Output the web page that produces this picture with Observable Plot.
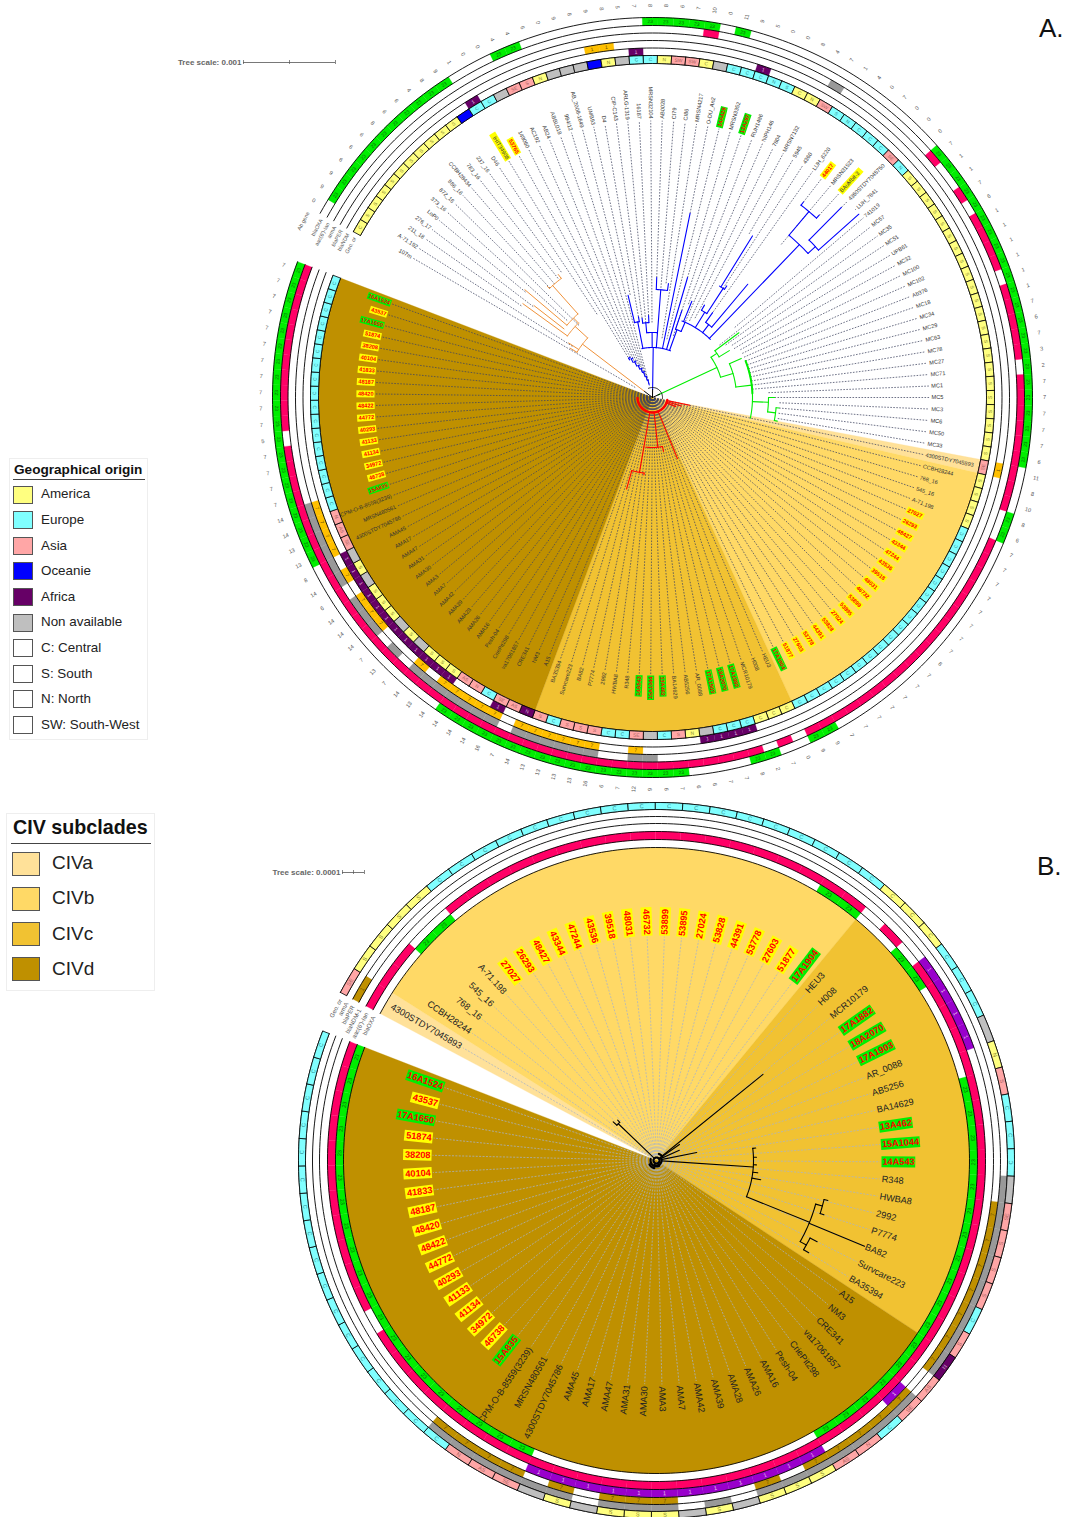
<!DOCTYPE html>
<html><head><meta charset="utf-8">
<script src="https://cdn.jsdelivr.net/npm/d3@7"></script>
<script src="https://cdn.jsdelivr.net/npm/@observablehq/plot@0.6"></script>
<style>
body{margin:0;background:#fff;font-family:"Liberation Sans",Arial,sans-serif;}
#wrap{position:relative;width:1080px;height:1517px;overflow:hidden}
.lg{position:absolute;background:#fff;border:1px solid #eee;box-sizing:border-box;color:#222}
.lg .t{position:absolute;font-weight:bold;color:#111;white-space:nowrap}
.lg .r{position:absolute;background:#444}
.lg .s{position:absolute;box-sizing:border-box;border:1px solid #555}
.lg .l{position:absolute;white-space:nowrap}
.big{position:absolute;font-size:26px;color:#111}
</style></head><body><div id="wrap"></div>
<script>
// ---------- leaf labels, clockwise from the ring start ----------
const otherLabels=["107m","A-71.192","211_18","276_17","LoP0","373_16","872_16","886_16","CCBH28434","783_16","237_16","D46","IHIT34908","53765","149060","AC192","AB24","ABBL018","984/12","AB_2008-1649","UMB93","D4","CIP-C143","ARLG-1319","16187","MRSN32104","AB0028","CI79","CI86","MRSN4217","O-DU_An2","14A429","MRSN3352","13A297","RUH1486","NIPH146","7804","MRSN7132","5945","4360","LUH_6220","44017","MRSN31523","BAuMbit-3","4360STDY7045750","LUH_7841","741019","MC57","MC35","MC51","UPB61","MC32","MC100","MC102","Ab376","MC18","MC34","MC29","MC63","MC78","MC27","MC71","MC1","MC5","MC3","MC6","MC50","MC33"];
const civLabels=["4300STDY7045893","CCBH28244","768_16","545_16","A-71.198","27027","26293","48427","43344","47244","43536","39518","48031","46732","53899","53895","27024","53828","44391","53778","27603","51877","17A1904","HEU3","H008","MCR10179","17A1882","18A2070","17A1903","AR_0088","AB5256","BA14629","13A462","15A1044","14A543","R348","HWBA8","2992","P7774","BA82","Survcare223","BA35394","A15","NM3","CRE341","va17061857","CriePit298","Pesh-04","AMA16","AMA26","AMA28","AMA39","AMA42","AMA7","AMA3","AMA30","AMA31","AMA47","AMA17","AMA45","4300STDY7045786","MRSN480561","SCPM-O-B-8559(3239)","15A835","46738","34972","41134","41133","40293","44772","48422","48420","48187","41833","40104","38208","51874","17A1650","43537","16A1524"];
const yellowRed=["27027","26293","48427","43344","47244","43536","39518","48031","46732","53899","53895","27024","53828","44391","53778","27603","51877","43537","51874","38208","40104","41833","48187","48420","48422","44772","40293","41133","41134","34972","46738","53765","44017"];
const yellowDark=["IHIT34908","BAuMbit-3"];
const greenRed=["17A1904","17A1882","18A2070","17A1903","13A462","15A1044","14A543","16A1524","17A1650","15A835","14A429","13A297"];

// ---------- geographic ring: letter + region (a,e,s,o,f,n) ----------
const geoOther="Ca Sa Sa Sa Sa Sa Sa Sa Sa Sa Sa _o Ce Ce _n SEs Ss Na _n _n _n _o Na _n Ce Ce Na SWs SWs Ca _n Ce Ce Ce Ne Se Ca Na SWs Se Ne Ce Ce Ce SEs Ne Sa Sa Sa Sa Sa Sa Sa Sa Sa Sa Sa Sa Sa Sa Sa Sa Sa Sa Sa Sa Sa Sa".split(" ");
const geoCivA="SEs Sa Sa Sa Sa Ce Ce Ce Ce Ce Ce Ce Ce Ce Ce Ce Ce Ce Ce Ce Ce Ce Ce Ca Ca Ca Ce Ce Ce _n Na Ss Ce _n SEs Ce Ce Ss Ss Ss Ce Ss Nf ASs SEs Ce Ns ASs Sa Sa Sa _n Sa _n Sa Sa Sa _n Sa _n SEs ASs Ns Ce Ce Ce Ce Ce Ce Ce Ce Ce Ce Ce Ce Ce Ce Ce Ce Ce".split(" ");
const geoCivB="SEs Sa Sa Sa Sa Ce Ce Ce Ce Ce Ce Ce Ce Ce Ce Ce Ce Ce Ce Ce Ce Ce Ce Ca Ca Ca Ce Ce Ce _n Na Ss Ce Ce Ce _n SEs Ss Ss Ss Ce Ss Nf ASs SEs Ce Ns ASs Sa Sa Sa _n Sa _n Sa Sa Sa _n Sa _n SEs ASs Ns Ce Ce Ce Ce Ce Ce Ce Ce Ce Ce Ce Ce Ce Ce Ce Ce Ce".split(" ");

// ---------- resistance rings: runs of leaf indices ----------
const ndmA=[[12,12],[24,24],[33,33],[94,97],[112,112],[116,127]];
const perA=[[21,22],[68,68],[102,102],[105,110],[112,116],[118,118],[122,124],[126,126],[128,131]];
const armaA=[[38,38],[101,102],[105,110],[112,118],[120,120],[122,124],[126,131]];
const aacA=[[29,29],[46,46],[49,49],[51,54],[56,60],[62,70],[73,90],[92,92],[94,135],[137,147]];
const oxaA=[[1,11],[15,16],[25,29],[31,31],[46,67],[71,72],[89,90],[93,94],[99,115],[128,147]];
const ndmB=[[26,29],[44,44],[48,59]];
const perB=[[0,0],[36,42],[44,48],[50,50],[54,56],[58,58],[60,63]];
const armaB=[[35,42],[44,50],[52,52],[54,56],[58,63]];
const aacB=[[0,2],[5,22],[24,24],[26,67],[69,79]];
const oxaB=[[3,4],[21,22],[25,26],[31,47],[60,79]];

// ---------- outer numbers of panel A ----------
const outerA=[0,9,9,6,6,6,8,6,6,4,8,9,1,0,0,4,4,6,0,9,8,9,8,5,7,8,8,6,7,10,0,11,9,5,0,0,8,4,7,1,4,0,7,0,0,0,7,1,1,7,6,1,1,1,1,1,1,7,6,7,3,2,7,7,7,7,7,6,11,8,10,8,6,7,7,7,7,7,7,7,7,8,7,7,7,7,7,7,7,9,9,0,7,2,8,7,7,6,6,7,6,9,12,7,6,16,13,13,13,13,14,7,16,14,14,14,14,13,14,7,13,7,14,14,14,6,14,8,13,13,14,14,7,7,7,7,5,7,7,7,7,7,7,7,7,7,7,7];

// ---------- tree branches: [leaf position, r from, r to, arc from, arc to] ----------
const orangeA=[[3,10,88,0.3,5.2],[0.3,88,96],[5.2,88,105,2.4,6.3],[2.4,105,160],[6.3,105,112,4.2,7.6],[4.2,112,167],[7.6,112,150,6.9,9.4],[6.9,150,153],[9.4,150,155],[1.2,88,100],[3.2,112,150]];
const blueA=[[25.5,8,50,20,34],[20.5,50,77,19.5,21],[19.5,77,105],[21,77,82],[25,50,65,23,27],[23,65,75,22,24],[22,75,80],[24,75,82],[27,50,108,26,28.5],[26,108,120],[28.5,108,115],
[30,50,188],[32,50,125],[33.5,50,72,33,35],[33,72,92],[35,72,82,34,44],[34.5,82,104],[38.4,82,100,37.5,39],[37.5,100,106],[39,100,130,38.2,39.3],[38.5,130,190],[39.3,130,134],[41,82,92,40,42],[40,92,104],[42,92,148],
[43.6,82,212,42,45],[42,212,243,41,43],[41,243,247],[43,243,247],[45,212,222,44,45.5],[44,222,268],[45.5,222,276],
[12,44,46,12,13],[13,40,44,13,14],[14,35,40,14,15],[15,31,35,15,16],[16,27,31,16,17],[17,22,27,17,18],[18,18,22,18,19],[19,13,18,19,19.8]];
const greenA=[[52.5,6,71,48.5,56],[48.5,71,78,47.5,49.8],[47.5,78,108],[49.8,78,90],[56,71,84,53,60],[53,84,97],[60,84,100,55,68],[64,100,116,63,66],[63,116,122],[66,116,124,65,67.5],[65,124,127],[67.5,124,127]];
const greenBoldA=[[60,100,100,54,62]];
const redA=[[68,15,38],[70,15,30],[72,15,25],[91.5,15,66],[98.3,15,50,96,104],[96,50,55],[105,15,50],[105,50,76,103.5,107.5],[103.5,76,78],[107.5,76,95]];
const redBoldA=[[100,15,15,67,138]];
const blackA=[[52.5,0,8],[25.5,0,8],[3,0,10],[40,10,10,15,66]];
const blackB=[[34.8,5,97,32.3,38.9],[32.3,97,100],[33.5,97,100],[34.5,97,100],[35.5,97,102],[36.3,97,106],[38.9,97,165,37.4,40.6],[37.4,165,172,36.9,38],[36.9,172,176],[38,172,176],[39,165,225],[40.6,165,172,40,41],[40,172,180],[41,172,178],
[25.1,4,137],[3.1,4,53,2.6,3.6],[2.6,53,58],[3.6,53,56],[31.4,6,41],[26,4,28],[28.5,4,25]];
const blobB=[[0,3,3,0,79],[0,5,5,30,60],[0,7,7,18,26],[0,6,6,48,70],[0,8,8,58,68],[0,6,6,70,78]];

// ---------- legend entries ----------
const geoLegend=[["America","#ffff80"],["Europe","#80ffff"],["Asia","#ffa6a6"],["Oceanie","#0000ff"],["Africa","#660066"],["Non available","#bfbfbf"],["C: Central","#fff"],["S: South","#fff"],["N: North","#fff"],["SW: South-West","#fff"]];
const civLegend=[["CIVa","#ffe199"],["CIVb","#ffd966"],["CIVc","#f1c232"],["CIVd","#bf9000"]];

// ---------- styles ----------
const regionColor={a:"#ffff80",e:"#80ffff",s:"#ffa6a6",o:"#0000ff",f:"#660066",n:"#bfbfbf"};
const wedgeColor={a:"#ffe199",b:"#ffd966",c:"#f1c232",d:"#bf9000"};

// ring slot numbers count outwards from the innermost ring
const panelA={cx:652,cy:397,start:299,step:2.378,n:148,rings:[334,342,349.5,357,364.5,372,380],
  slots:{geo:0,ndm:1,per:2,arma:3,aac:4,oxa:5},
  labels:otherLabels.concat(civLabels),geo:geoOther.concat(geoCivA),
  ndm:ndmA,per:perA,arma:armaA,aac:aacA,oxa:oxaA,ndmColor:"#660066",perColor:"#ffc000",
  wedges:[[68,69,"a"],[69,91,"b"],[91,110,"c"],[110,148,"d"]],
  labelR:278,fs:5.6,bg:7,ringFs:4.8,labelColor:"#333",dash:"#3f4460",dashW:0.75,dashPattern:"1.6,1.4",
  names:["Geo. or","blaNDM","blaPER","armA","aac(6')-Ian","blaOXA"],nameSlots:[0,1,2,3,4,5],nameT:298.3,nameFs:5.4,
  perFirst:[21,22,68]};
const panelB={cx:656,cy:1160,start:298,step:4.415,n:80,rings:[313,321,329,337,344,351,358],
  slots:{geo:5,ndm:2,per:3,arma:4,aac:1,oxa:0},
  labels:civLabels,geo:geoCivB,
  ndm:ndmB,per:perB,arma:armaB,aac:aacB,oxa:oxaB,ndmColor:"#9900cc",perColor:"#bf9000",
  wedges:[[0,1,"a"],[1,23,"b"],[23,42,"c"],[42,80,"d"]],
  labelR:225,fs:9.2,bg:11,ringFs:5.6,labelColor:"#222",dash:"#a8b3c7",dashW:0.75,dashPattern:"2,1.4",
  names:["Geo. or","armA","blaPER","blaNDM-1","aac(6')-Ian","blaOXA"],nameSlots:[5,4,3,2,1,0],nameT:297,nameFs:6,
  perFirst:[0]};

// tip radius of the dashed leaf lines in panel A
const tipA=[20,95,160,150,165,115,103,150,150,152,155,100,44,40,35,31,27,22,18,14,105,82,80,75,82,75,120,110,115,60,188,60,125,65,100,80,85,90,190,130,105,247,200,247,268,276,108,85,90,95,95,100,100,100,100,100,100,100,100,100,100,100,116,122,127,127,127,127];

const deg=Math.PI/180;
const pol=(p,r,t)=>({x:p.cx+r*Math.sin(t*deg),y:p.cy-r*Math.cos(t*deg)});
const ang=(p,i)=>p.start+(i+0.5)*p.step;
const edge=(p,i)=>p.start+i*p.step;
const expand=runs=>runs.flatMap(([a,b])=>d3.range(a,b+1));
let uid=0;
function arcPts(p,r,t0,t1){const k=Math.max(2,Math.ceil(Math.abs(t1-t0)));return d3.range(k+1).map(j=>pol(p,r,t0+(t1-t0)*j/k));}
function sector(p,r0,r1,t0,t1,fill,stroke,sw){const id=uid++;const pts=[...arcPts(p,r1,t0,t1),...arcPts(p,r0,t1,t0)];pts.push(pts[0]);return pts.map(q=>({...q,id,fill,stroke,sw}));}
function tangentRot(t){const a=((t%360)+360)%360;return (a>90&&a<270)?a+180:a;}
function radialRot(t){const a=((t%360)+360)%360;return a<180?a-90:a+90;}

function treeLines(p,segs,color,width){
  const rows=[];
  for(const [pos,r0,r1,a,b] of segs){
    const id=uid++;
    if(r1>r0)[pol(p,r0,ang(p,pos)),pol(p,r1,ang(p,pos))].forEach(q=>rows.push({...q,id}));
    if(a!==undefined){const id2=uid++;arcPts(p,r1,ang(p,a),ang(p,b)).forEach(q=>rows.push({...q,id:id2}));}
  }
  return Plot.line(rows,{x:"x",y:"y",z:"id",stroke:color,strokeWidth:width,curve:"linear"});
}
function panelMarks(p,isA){
  const m=[];
  const R=p.rings;
  // wedges
  let rows=[];
  for(const [a,b,k] of p.wedges){
    const id=uid++;
    const pts=[pol(p,0,edge(p,a)),...arcPts(p,R[0],edge(p,a),edge(p,b)),pol(p,0,edge(p,b))];
    pts.forEach(q=>rows.push({...q,id,fill:wedgeColor[k]}));
  }
  m.push(Plot.line(rows,{x:"x",y:"y",z:"id",fill:"fill",stroke:"fill",strokeWidth:0.3}));
  // leaf lines
  const leaves=p.labels.map((name,i)=>{
    const t=ang(p,i),r0=isA&&i<tipA.length?tipA[i]:2,a=pol(p,r0,t),b=pol(p,p.labelR-1,t);
    const hi=yellowRed.includes(name)?"#ffff00":yellowDark.includes(name)?"#ffff00":greenRed.includes(name)?"#00ee00":null;
    const len=name.length*p.fs*0.575+2;
    const c=pol(p,p.labelR,t),d=pol(p,p.labelR+len,t);
    const l=pol(p,p.labelR+1,t);
    return {name,t,x1:a.x,y1:a.y,x2:b.x,y2:b.y,bx1:c.x,by1:c.y,bx2:d.x,by2:d.y,hi,lx:l.x,ly:l.y,rot:radialRot(t),
      red:yellowRed.includes(name)||greenRed.includes(name),right:(((t%360)+360)%360)<180};
  });
  m.push(Plot.link(leaves,{x1:"x1",y1:"y1",x2:"x2",y2:"y2",stroke:p.dash,strokeWidth:p.dashW,strokeDasharray:p.dashPattern}));
  // trees
  if(isA){
    m.push(treeLines(p,orangeA,"#f0923a",1));
    m.push(treeLines(p,blueA,"#0000ff",1.1));
    m.push(treeLines(p,greenA,"#00ee00",1.1));
    m.push(treeLines(p,greenBoldA,"#00ee00",2));
    m.push(treeLines(p,redA,"#ff0000",1.1));
    m.push(treeLines(p,redBoldA,"#ff0000",2.4));
    m.push(treeLines(p,blackA,"#000",1));
  }else{
    m.push(treeLines(p,blackB,"#000",1.1));
    m.push(treeLines(p,blobB,"#000",2.2));
  }
  // highlights
  m.push(Plot.link(leaves.filter(d=>d.hi),{x1:"bx1",y1:"by1",x2:"bx2",y2:"by2",stroke:"hi",strokeWidth:p.bg}));
  // labels
  for(const right of [true,false]){
    const side=leaves.filter(d=>d.right===right);
    const opt={x:"lx",y:"ly",text:"name",rotate:"rot",textAnchor:right?"start":"end",fontSize:p.fs};
    m.push(Plot.text(side.filter(d=>!d.red),{...opt,fill:p.labelColor}));
    m.push(Plot.text(side.filter(d=>d.red),{...opt,fill:"#ff0000",fontWeight:"bold"}));
  }
  // ring cells
  const ringRows=[],ringText=[];
  const addRing=(runs,slot,color,txt,tc)=>{
    for(const i of expand(runs)){
      ringRows.push(...sector(p,R[slot],R[slot+1],edge(p,i),edge(p,i+1),color,color,0.25));
      const q=pol(p,(R[slot]+R[slot+1])/2,ang(p,i));
      const label=typeof txt==="function"?txt(i):txt;
      if(label) ringText.push({...q,label,rot:tangentRot(ang(p,i)),tc});
    }
  };
  addRing(p.oxa,p.slots.oxa,"#00ee00","23","#066b06");
  addRing(p.aac,p.slots.aac,"#ff0066",null,null);
  addRing(p.ndm,p.slots.ndm,p.ndmColor,"1","#e8c8e8");
  addRing(p.per,p.slots.per,p.perColor,i=>p.perFirst.includes(i)?"1":"7","#5e4700");
  addRing(p.arma,p.slots.arma,"#999999",null,null);
  m.push(Plot.line(ringRows,{x:"x",y:"y",z:"id",fill:"fill",stroke:"stroke",strokeWidth:0.25}));
  // ring circles
  const t0=edge(p,0),t1=edge(p,p.n);
  const circ=[];
  R.forEach(r=>{const id=uid++;arcPts(p,r,t0,t1).forEach(q=>circ.push({...q,id}));});
  m.push(Plot.line(circ,{x:"x",y:"y",z:"id",stroke:"#000",strokeWidth:0.9}));
  // geographic ring
  const gr0=R[p.slots.geo],gr1=R[p.slots.geo+1];
  const geoRows=[];
  p.geo.forEach((g,i)=>{
    const letter=g.slice(0,-1)==="_"?"":g.slice(0,-1);
    const col=regionColor[g.slice(-1)];
    geoRows.push(...sector(p,gr0,gr1,edge(p,i),edge(p,i+1),col,"#000",0.8));
    if(letter){const q=pol(p,(gr0+gr1)/2,ang(p,i));ringText.push({...q,label:letter,rot:tangentRot(ang(p,i)),tc:g.slice(-1)==="f"?"#caa8ca":g.slice(-1)==="e"?"#2f8f95":g.slice(-1)==="s"?"#a85f5f":"#85852a"});}
  });
  m.push(Plot.line(geoRows,{x:"x",y:"y",z:"id",fill:"fill",stroke:"#000",strokeWidth:0.8}));
  m.push(Plot.text(ringText,{x:"x",y:"y",text:"label",rotate:"rot",fill:"tc",fontSize:p.ringFs}));
  // ring names
  const names=p.names.map((name,k)=>{const s=p.nameSlots[k];const q=pol(p,(R[s]+R[s+1])/2,p.nameT);return {...q,name};});
  if(isA){const q=pol(p,391,p.nameT);names.push({...q,name:"Ab gene"});}
  m.push(Plot.text(names,{x:"x",y:"y",text:"name",rotate:-62,textAnchor:"end",fontSize:p.nameFs,fill:"#555"}));
  // outer numbers
  if(isA){
    const nums=outerA.map((v,i)=>({...pol(p,392,ang(p,i)),v:String(v),rot:radialRot(ang(p,i))}));
    m.push(Plot.text(nums,{x:"x",y:"y",text:"v",rotate:"rot",fontSize:5.6,fill:"#555"}));
  }
  return m;
}

// tree-scale bars
const scaleBars=[{x1:243,x2:335,y:62,xm:289,label:"Tree scale: 0.001",lx:241},{x1:342,x2:364,y:872,xm:353,label:"Tree scale: 0.0001",lx:340}];

const marks=[
  ...panelMarks(panelA,true),
  ...panelMarks(panelB,false),
  Plot.ruleY(scaleBars,{x1:"x1",x2:"x2",y:"y",stroke:"#555",strokeWidth:0.8}),
  Plot.ruleX(scaleBars.flatMap(d=>[d.x1,d.xm,d.x2].map(x=>({x,y1:d.y-2,y2:d.y+2}))),{x:"x",y1:"y1",y2:"y2",stroke:"#555",strokeWidth:0.7}),
  Plot.text(scaleBars,{x:"lx",y:"y",text:"label",textAnchor:"end",fontSize:8,fontWeight:"bold",fill:"#666"})
];

const chart=Plot.plot({
  width:1080,height:1517,margin:0,
  x:{domain:[0,1080],range:[0,1080],axis:null},
  y:{domain:[0,1517],range:[0,1517],axis:null},
  color:{type:"identity"},
  style:{fontFamily:"Liberation Sans, Arial, sans-serif",background:"transparent"},
  marks
});
const wrap=document.getElementById("wrap");
wrap.appendChild(chart);
chart.style.position="absolute";chart.style.left="0";chart.style.top="0";

function legend(title,items,o){
  const box=document.createElement("div");box.className="lg";
  Object.assign(box.style,{left:o.x+"px",top:o.y+"px",width:o.w+"px",height:o.h+"px"});
  let html=`<div class="t" style="left:${o.tx}px;top:${o.ty}px;font-size:${o.tfs}px">${title}</div><div class="r" style="left:${o.rx}px;top:${o.ry}px;width:${o.rw}px;height:1px"></div>`;
  items.forEach(([n,c],i)=>{
    const cy=o.first+i*o.dy;
    html+=`<div class="s" style="left:${o.sx}px;top:${cy-o.sh/2}px;width:${o.sw}px;height:${o.sh}px;background:${c}"></div><div class="l" style="left:${o.lx}px;top:${cy-o.fs*0.6}px;font-size:${o.fs}px;line-height:${o.fs*1.2}px">${n}</div>`;
  });
  box.innerHTML=html;wrap.appendChild(box);
}
legend("Geographical origin",geoLegend,{x:9,y:458,w:139,h:282,tx:4,ty:3,tfs:13.6,rx:3,ry:20,rw:132,first:35.5,dy:25.6,sx:3,sw:20,sh:18,lx:31,fs:13.4});
legend("CIV subclades",civLegend,{x:6,y:813,w:149,h:178,tx:6,ty:2,tfs:19.7,rx:4,ry:29,rw:140,first:49.5,dy:35.3,sx:5,sw:28,sh:24,lx:45,fs:19});
[["A.",1039,13],["B.",1037,851]].forEach(([t,x,y])=>{const d=document.createElement("div");d.className="big";d.textContent=t;d.style.left=x+"px";d.style.top=y+"px";wrap.appendChild(d);});
</script></body></html>
